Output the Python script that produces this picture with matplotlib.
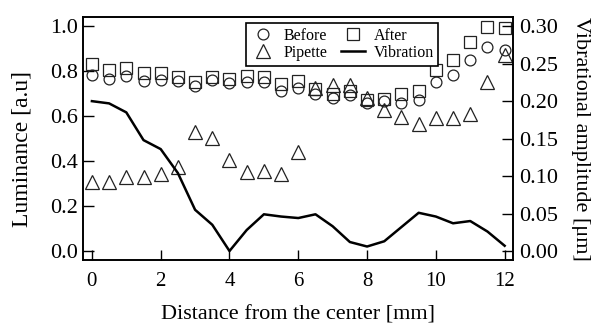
import numpy as np
import matplotlib
matplotlib.use('Agg')
from matplotlib import pyplot as plt

plt.rcParams['font.family'] = ['Liberation Serif', 'DejaVu Serif']

# distance from the center [mm]
distance = [0, 0.5, 1, 1.5, 2, 2.5, 3, 3.5, 4, 4.5, 5, 5.5, 6,
            6.5, 7, 7.5, 8, 8.5, 9, 9.5, 10, 10.5, 11, 11.5, 12]

before = [0.785, 0.764, 0.78, 0.758, 0.761, 0.758, 0.733, 0.76, 0.748, 0.75,
          0.75, 0.711, 0.723, 0.70, 0.681, 0.693, 0.658, 0.668, 0.66, 0.671,
          0.752, 0.782, 0.849, 0.908, 0.896]
after = [0.83, 0.807, 0.816, 0.79, 0.79, 0.775, 0.754, 0.775, 0.764, 0.779,
         0.775, 0.742, 0.756, 0.72, 0.70, 0.71, 0.67, 0.676, 0.70, 0.712,
         0.807, 0.849, 0.93, 0.997, 0.99]
pipette = [0.305, 0.305, 0.33, 0.33, 0.341, 0.375, 0.53, 0.504, 0.404, 0.35,
           0.354, 0.342, 0.44, 0.727, 0.738, 0.738, 0.68, 0.627, 0.597, 0.565,
           0.59, 0.59, 0.609, 0.752, 0.871]
# vibrational amplitude [um]
vibration = [0.200, 0.197, 0.185, 0.148, 0.136, 0.104, 0.055, 0.035, 0.0, 0.028,
             0.049, 0.046, 0.044, 0.049, 0.033, 0.012, 0.006, 0.013, 0.032, 0.051,
             0.046, 0.037, 0.040, 0.026, 0.007]

fig = plt.figure(figsize=(5.93, 3.25), dpi=100)
ax = fig.add_axes([0.1405, 0.2, 0.725, 0.747])
ax2 = ax.twinx()

mk = dict(linestyle='none', markerfacecolor='none', markeredgecolor='#222222',
          markeredgewidth=0.9)
h1, = ax.plot(distance, before, marker='o', markersize=7.8, label='Before', **mk)
h2, = ax.plot(distance, after, marker='s', markersize=8.5, label='After', **mk)
h3, = ax.plot(distance, pipette, marker='^', markersize=9.5, label='Pipette', **mk)
h4, = ax2.plot(distance, vibration, color='black', linewidth=1.8, label='Vibration')

ax.set_xlim(-0.25, 12.25)
ax.set_ylim(-0.04, 1.04)
ax2.set_ylim(-0.012, 0.312)

ax.set_xticks([0, 2, 4, 6, 8, 10, 12])
ax.set_yticks([0.0, 0.2, 0.4, 0.6, 0.8, 1.0])
ax.set_yticklabels(['0.0', '0.2', '0.4', '0.6', '0.8', '1.0'])
ax2.set_yticks([0.0, 0.05, 0.10, 0.15, 0.20, 0.25, 0.30])
ax2.set_yticklabels(['0.00', '0.05', '0.10', '0.15', '0.20', '0.25', '0.30'])

ax.tick_params(axis='x', direction='in', length=7, width=1, pad=9,
               labelsize=15, top=False)
ax.tick_params(axis='y', direction='in', length=8, width=1, pad=4,
               labelsize=16)
ax2.tick_params(axis='y', direction='in', length=8, width=1, pad=4,
                labelsize=16)
for a in (ax, ax2):
    for s in a.spines.values():
        s.set_linewidth(1.2)

ax.set_xlabel('Distance from the center [mm]', fontsize=16)
ax.xaxis.set_label_coords(0.5, -0.186)
ax.set_ylabel('Luminance [a.u]', fontsize=17)
ax.yaxis.set_label_coords(-0.118, 0.457)
ax2.set_ylabel('Vibrational amplitude [μm]', fontsize=16, rotation=270)
ax2.yaxis.set_label_coords(1.179, 0.5)

leg = ax2.legend([h1, h3, h2, h4], ['Before', 'Pipette', 'After', 'Vibration'],
                 ncol=2, loc='upper right', bbox_to_anchor=(0.826, 0.975),
                 fontsize=11.5, frameon=True, fancybox=False, edgecolor='black',
                 framealpha=1, handlelength=1.5, handletextpad=0.5,
                 columnspacing=0.9, borderpad=0.3, labelspacing=0.05,
                 borderaxespad=0)
leg.get_frame().set_linewidth(1.2)

fig.savefig('out.png', dpi=100)
